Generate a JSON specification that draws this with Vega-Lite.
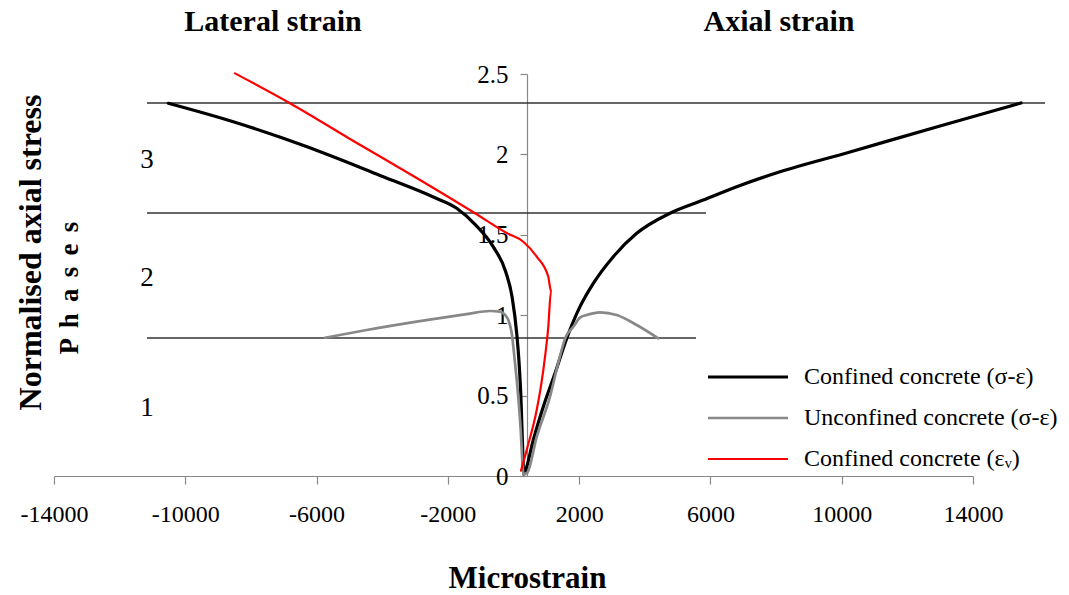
{
  "$schema": "https://vega.github.io/schema/vega-lite/v6.json",
  "width": 919,
  "height": 402,
  "autosize": {"type": "none"},
  "padding": {"left": 54, "top": 74, "right": 96, "bottom": 119},
  "config": {
    "view": {"stroke": null},
    "font": "Liberation Serif",
    "text": {"font": "Liberation Serif"}
  },
  "layer": [
    {
      "data": {"values": [
        {"x": -11167, "x2": 16195, "y": 2.32},
        {"x": -11167, "x2": 5865, "y": 1.636},
        {"x": -11167, "x2": 5561, "y": 0.858}
      ]},
      "mark": {"type": "rule", "color": "#333333", "strokeWidth": 1.5},
      "encoding": {
        "x": {"field": "x", "type": "quantitative"},
        "x2": {"field": "x2"},
        "y": {"field": "y", "type": "quantitative"}
      }
    },
    {
      "data": {"values": [
        {"s": "Confined concrete (σ-ε)", "i": 1, "x": -10518, "y": 2.318},
        {"s": "Confined concrete (σ-ε)", "i": 2, "x": -8538, "y": 2.203},
        {"s": "Confined concrete (σ-ε)", "i": 3, "x": -7014, "y": 2.100},
        {"s": "Confined concrete (σ-ε)", "i": 4, "x": -5491, "y": 1.986},
        {"s": "Confined concrete (σ-ε)", "i": 5, "x": -3967, "y": 1.861},
        {"s": "Confined concrete (σ-ε)", "i": 6, "x": -2444, "y": 1.735},
        {"s": "Confined concrete (σ-ε)", "i": 7, "x": -1731, "y": 1.665},
        {"s": "Confined concrete (σ-ε)", "i": 8, "x": -1150, "y": 1.560},
        {"s": "Confined concrete (σ-ε)", "i": 9, "x": -615, "y": 1.425},
        {"s": "Confined concrete (σ-ε)", "i": 10, "x": -240, "y": 1.272},
        {"s": "Confined concrete (σ-ε)", "i": 11, "x": -40, "y": 1.110},
        {"s": "Confined concrete (σ-ε)", "i": 12, "x": 98, "y": 0.887},
        {"s": "Confined concrete (σ-ε)", "i": 13, "x": 177, "y": 0.680},
        {"s": "Confined concrete (σ-ε)", "i": 14, "x": 229, "y": 0.473},
        {"s": "Confined concrete (σ-ε)", "i": 15, "x": 280, "y": 0.162},
        {"s": "Confined concrete (σ-ε)", "i": 16, "x": 310, "y": 0.010},
        {"s": "Confined concrete (σ-ε)", "i": 17, "x": 360, "y": 0.030},
        {"s": "Confined concrete (σ-ε)", "i": 18, "x": 603, "y": 0.224},
        {"s": "Confined concrete (σ-ε)", "i": 19, "x": 908, "y": 0.431},
        {"s": "Confined concrete (σ-ε)", "i": 20, "x": 1265, "y": 0.639},
        {"s": "Confined concrete (σ-ε)", "i": 21, "x": 1621, "y": 0.856},
        {"s": "Confined concrete (σ-ε)", "i": 22, "x": 2026, "y": 1.053},
        {"s": "Confined concrete (σ-ε)", "i": 23, "x": 2432, "y": 1.198},
        {"s": "Confined concrete (σ-ε)", "i": 24, "x": 3041, "y": 1.364},
        {"s": "Confined concrete (σ-ε)", "i": 25, "x": 3754, "y": 1.509},
        {"s": "Confined concrete (σ-ε)", "i": 26, "x": 4769, "y": 1.634},
        {"s": "Confined concrete (σ-ε)", "i": 27, "x": 5783, "y": 1.716},
        {"s": "Confined concrete (σ-ε)", "i": 28, "x": 6801, "y": 1.799},
        {"s": "Confined concrete (σ-ε)", "i": 29, "x": 7816, "y": 1.872},
        {"s": "Confined concrete (σ-ε)", "i": 30, "x": 10253, "y": 2.015},
        {"s": "Confined concrete (σ-ε)", "i": 31, "x": 12995, "y": 2.177},
        {"s": "Confined concrete (σ-ε)", "i": 32, "x": 15464, "y": 2.320},

        {"s": "Unconfined concrete (σ-ε)", "i": 1, "x": -5744, "y": 0.860},
        {"s": "Unconfined concrete (σ-ε)", "i": 2, "x": -4473, "y": 0.908},
        {"s": "Unconfined concrete (σ-ε)", "i": 3, "x": -2950, "y": 0.960},
        {"s": "Unconfined concrete (σ-ε)", "i": 4, "x": -1426, "y": 1.007},
        {"s": "Unconfined concrete (σ-ε)", "i": 5, "x": -716, "y": 1.026},
        {"s": "Unconfined concrete (σ-ε)", "i": 6, "x": -411, "y": 1.022},
        {"s": "Unconfined concrete (σ-ε)", "i": 7, "x": -250, "y": 1.000},
        {"s": "Unconfined concrete (σ-ε)", "i": 8, "x": -158, "y": 0.970},
        {"s": "Unconfined concrete (σ-ε)", "i": 9, "x": -55, "y": 0.889},
        {"s": "Unconfined concrete (σ-ε)", "i": 10, "x": 46, "y": 0.703},
        {"s": "Unconfined concrete (σ-ε)", "i": 11, "x": 146, "y": 0.491},
        {"s": "Unconfined concrete (σ-ε)", "i": 12, "x": 219, "y": 0.286},
        {"s": "Unconfined concrete (σ-ε)", "i": 13, "x": 280, "y": 0.056},
        {"s": "Unconfined concrete (σ-ε)", "i": 14, "x": 300, "y": 0.010},
        {"s": "Unconfined concrete (σ-ε)", "i": 15, "x": 420, "y": 0.021},
        {"s": "Unconfined concrete (σ-ε)", "i": 16, "x": 707, "y": 0.244},
        {"s": "Unconfined concrete (σ-ε)", "i": 17, "x": 1112, "y": 0.493},
        {"s": "Unconfined concrete (σ-ε)", "i": 18, "x": 1360, "y": 0.700},
        {"s": "Unconfined concrete (σ-ε)", "i": 19, "x": 1585, "y": 0.862},
        {"s": "Unconfined concrete (σ-ε)", "i": 20, "x": 1822, "y": 0.928},
        {"s": "Unconfined concrete (σ-ε)", "i": 21, "x": 2026, "y": 0.985},
        {"s": "Unconfined concrete (σ-ε)", "i": 22, "x": 2230, "y": 1.001},
        {"s": "Unconfined concrete (σ-ε)", "i": 23, "x": 2636, "y": 1.018},
        {"s": "Unconfined concrete (σ-ε)", "i": 24, "x": 3144, "y": 1.001},
        {"s": "Unconfined concrete (σ-ε)", "i": 25, "x": 3754, "y": 0.939},
        {"s": "Unconfined concrete (σ-ε)", "i": 26, "x": 4412, "y": 0.856},

        {"s": "Confined concrete (εᵥ)", "i": 1, "x": -8486, "y": 2.504},
        {"s": "Confined concrete (εᵥ)", "i": 2, "x": -6810, "y": 2.318},
        {"s": "Confined concrete (εᵥ)", "i": 3, "x": -4982, "y": 2.096},
        {"s": "Confined concrete (εᵥ)", "i": 4, "x": -2950, "y": 1.853},
        {"s": "Confined concrete (εᵥ)", "i": 5, "x": -1173, "y": 1.634},
        {"s": "Confined concrete (εᵥ)", "i": 6, "x": -207, "y": 1.511},
        {"s": "Confined concrete (εᵥ)", "i": 7, "x": 298, "y": 1.457},
        {"s": "Confined concrete (εᵥ)", "i": 8, "x": 707, "y": 1.364},
        {"s": "Confined concrete (εᵥ)", "i": 9, "x": 1060, "y": 1.239},
        {"s": "Confined concrete (εᵥ)", "i": 10, "x": 1143, "y": 1.150},
        {"s": "Confined concrete (εᵥ)", "i": 11, "x": 1060, "y": 0.928},
        {"s": "Confined concrete (εᵥ)", "i": 12, "x": 908, "y": 0.659},
        {"s": "Confined concrete (εᵥ)", "i": 13, "x": 707, "y": 0.410},
        {"s": "Confined concrete (εᵥ)", "i": 14, "x": 402, "y": 0.162},
        {"s": "Confined concrete (εᵥ)", "i": 15, "x": 229, "y": 0.033}
      ]},
      "mark": {"type": "line", "interpolate": "monotone", "strokeCap": "round", "strokeJoin": "round"},
      "encoding": {
        "x": {
          "field": "x", "type": "quantitative",
          "scale": {"domain": [-14000, 14000], "nice": false, "zero": false},
          "axis": {
            "title": "Microstrain",
            "values": [-14000, -10000, -6000, -2000, 2000, 6000, 10000, 14000],
            "labelExpr": "'' + datum.value",
            "grid": false,
            "domainColor": "#888888", "domainWidth": 1.2,
            "tickColor": "#888888", "tickWidth": 1.2, "tickSize": 8,
            "labelFont": "Liberation Serif", "labelFontSize": 24, "labelColor": "#000000",
            "labelPadding": 18, "labelFlush": false, "labelOverlap": false,
            "titleFont": "Liberation Serif", "titleFontSize": 31, "titleFontWeight": "bold",
            "titleColor": "#000000", "titlePadding": 37, "titleX": 473
          }
        },
        "y": {
          "field": "y", "type": "quantitative",
          "scale": {"domain": [0, 2.5], "nice": false},
          "axis": {
            "title": "Normalised axial stress",
            "values": [0, 0.5, 1, 1.5, 2, 2.5],
            "format": "~g",
            "offset": -473,
            "grid": false,
            "domainColor": "#888888", "domainWidth": 1.2,
            "tickColor": "#888888", "tickWidth": 1.2, "tickSize": 7,
            "labelFont": "Liberation Serif", "labelFontSize": 25, "labelColor": "#000000",
            "labelPadding": 12, "labelFlush": false, "labelOverlap": false,
            "titleFont": "Liberation Serif", "titleFontSize": 32, "titleFontWeight": "bold",
            "titleColor": "#000000", "titleX": -497, "titleY": 178, "titleAngle": -90,
            "titleAlign": "center", "titleBaseline": "middle"
          }
        },
        "order": {"field": "i", "type": "quantitative"},
        "color": {
          "field": "s", "type": "nominal",
          "scale": {
            "domain": ["Confined concrete (σ-ε)", "Unconfined concrete (σ-ε)", "Confined concrete (εᵥ)"],
            "range": ["#000000", "#888888", "#ff0000"]
          },
          "legend": {
            "title": null,
            "orient": "none", "legendX": 647, "legendY": 291,
            "padding": 0,
            "symbolType": "M-1,0H15", "symbolSize": 100, "symbolStrokeWidth": 3.5,
            "labelFont": "Liberation Serif", "labelFontSize": 24, "labelColor": "#000000",
            "labelOffset": 79, "rowPadding": 17, "labelLimit": 400
          }
        },
        "strokeWidth": {
          "field": "s", "type": "nominal",
          "scale": {
            "domain": ["Confined concrete (σ-ε)", "Unconfined concrete (σ-ε)", "Confined concrete (εᵥ)"],
            "range": [3.2, 2.2, 2.6]
          },
          "legend": null
        }
      }
    },
    {
      "data": {"values": [
        {"label": "Lateral strain", "x": -7328, "y": 2.823},
        {"label": "Axial strain", "x": 8090, "y": 2.823}
      ]},
      "mark": {"type": "text", "font": "Liberation Serif", "fontSize": 30, "fontWeight": "bold", "color": "#000000", "align": "center", "baseline": "middle"},
      "encoding": {
        "x": {"field": "x", "type": "quantitative"},
        "y": {"field": "y", "type": "quantitative"},
        "text": {"field": "label"}
      }
    },
    {
      "data": {"values": [
        {"label": "3", "x": -11167, "y": 1.965},
        {"label": "2", "x": -11167, "y": 1.231},
        {"label": "1", "x": -11167, "y": 0.423}
      ]},
      "mark": {"type": "text", "font": "Liberation Serif", "fontSize": 27, "color": "#000000", "align": "center", "baseline": "middle"},
      "encoding": {
        "x": {"field": "x", "type": "quantitative"},
        "y": {"field": "y", "type": "quantitative"},
        "text": {"field": "label"}
      }
    },
    {
      "data": {"values": [
        {"label": "P \u2006h \u2006a \u2006s \u2006e \u2006s", "x": -13513, "y": 1.169}
      ]},
      "mark": {"type": "text", "font": "Liberation Serif", "fontSize": 27, "fontWeight": "bold", "color": "#000000", "align": "center", "baseline": "middle", "angle": 270},
      "encoding": {
        "x": {"field": "x", "type": "quantitative"},
        "y": {"field": "y", "type": "quantitative"},
        "text": {"field": "label"}
      }
    }
  ]
}
